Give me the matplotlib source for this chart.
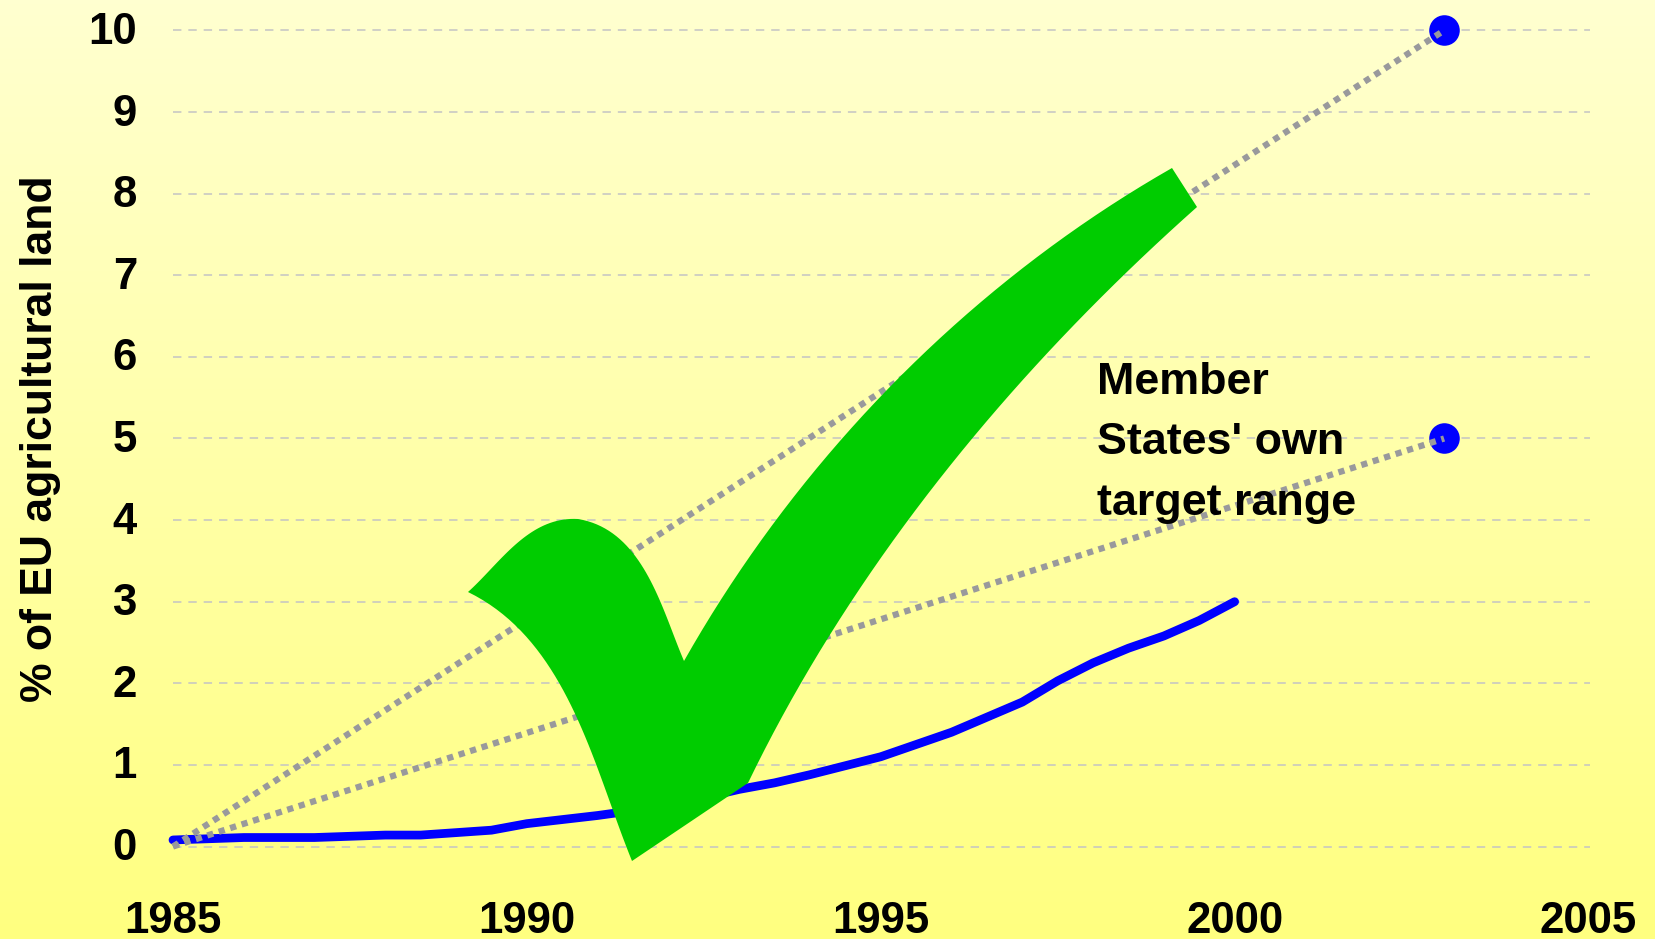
import matplotlib
matplotlib.use("Agg")
import matplotlib.pyplot as plt
import numpy as np
from matplotlib.patches import Polygon
from matplotlib.transforms import ScaledTranslation

plt.rcParams['font.family'] = ['Liberation Sans', 'DejaVu Sans']
plt.rcParams['font.weight'] = 'bold'

# eu share of farmland
years = [1985, 1986, 1987, 1988, 1988.5, 1989.5, 1990, 1991, 1992, 1993, 1993.5,
         1994, 1995, 1996, 1997, 1997.5, 1998, 1998.5, 1999, 1999.5, 2000]
share = [0.08, 0.11, 0.11, 0.14, 0.14, 0.2, 0.28, 0.38, 0.5, 0.7, 0.78,
         0.88, 1.1, 1.4, 1.77, 2.03, 2.25, 2.43, 2.58, 2.77, 3.0]

target_years = [1985, 2002.96]
target_high = [0, 10]
target_low = [0, 5]

x_ticks = [1985, 1990, 1995, 2000, 2005]
y_ticks = list(range(0, 11))

# tick mark outline, in pixels of the picture, one list per edge
tick_left = [(468, 592), (493, 567), (517, 543), (550, 523), (578, 519)]
tick_inner = [(578, 519), (607, 528), (633, 555), (663, 607), (684, 661)]
tick_upper = [(684, 661), (733, 580), (793, 498), (843, 437), (877, 400), (920, 357),
              (967, 317), (1013, 275), (1073, 230), (1127, 193), (1172, 168)]
tick_end = [(1172, 168), (1197, 207)]
tick_lower = [(1197, 207), (1153, 245), (1110, 287), (1073, 325), (1043, 357), (1007, 400),
              (973, 438), (910, 520), (853, 600), (800, 680), (773, 730), (748, 783)]
tick_base = [(748, 783), (632, 861)]
tick_back = [(632, 861), (613, 805), (597, 767), (570, 707), (543, 660), (513, 620), (490, 602), (468, 592)]

W, H = 1655, 939
X0, X1 = 173, 1588.5
Y0, Y1 = 846.5, 30.5


def smooth(pts, n=40):
    # one clean cubic through each edge, the ends are held in place
    p = np.array(pts, dtype=float)
    if len(p) < 3:
        return p
    t = np.r_[0, np.cumsum(np.hypot(*np.diff(p, axis=0).T))]
    t = t / t[-1]
    w = np.ones(len(p))
    w[0] = w[-1] = 50
    tt = np.linspace(0, 1, n)
    return np.column_stack([np.polyval(np.polyfit(t, p[:, k], 3, w=w), tt) for k in (0, 1)])


fig = plt.figure(figsize=(W / 100, H / 100), dpi=100)

bg = fig.add_axes([0, 0, 1, 1], zorder=0)
top = np.array([255, 255, 208]) / 255
bottom = np.array([255, 255, 128]) / 255
grad = np.linspace(0, 1, 256)[:, None, None]
bg.imshow(top * (1 - grad) + bottom * grad, aspect='auto')
bg.axis('off')

ax = fig.add_axes([X0 / W, 1 - Y0 / H, (X1 - X0) / W, (Y0 - Y1) / H], zorder=1)
ax.patch.set_alpha(0)
ax.set_xlim(1985, 2005)
ax.set_ylim(0, 10)
for s in ax.spines.values():
    s.set_visible(False)

for y in y_ticks:
    ax.plot([1985, 2005.02], [y, y], color='#c4c4c4', lw=1.1, dashes=(5.5, 4.54), zorder=1, clip_on=False)

ax.plot(target_years[1:], target_high[1:], 'o', color='#0000ff', ms=22, mew=0, zorder=2, clip_on=False)
ax.plot(target_years[1:], target_low[1:], 'o', color='#0000ff', ms=22, mew=0, zorder=2, clip_on=False)
ax.plot(years, share, color='#0000ff', lw=6.3, solid_capstyle='round', zorder=3, clip_on=False)
ax.plot(target_years, target_high, color='#99999c', lw=4.5, dashes=(1, 0.92), zorder=4, clip_on=False)
ax.plot(target_years, target_low, color='#99999c', lw=4.5, dashes=(1, 0.92), zorder=4, clip_on=False)

outline = np.vstack([smooth(e) for e in (tick_left, tick_inner, tick_upper, tick_end,
                                         tick_lower, tick_base, tick_back)])
mark_x = 1985 + (outline[:, 0] - X0) / (X1 - X0) * 20
mark_y = (Y0 - outline[:, 1]) / (Y0 - Y1) * 10
ax.add_patch(Polygon(np.column_stack([mark_x, mark_y]), closed=True, fc='#00cc00', ec='none', zorder=5, clip_on=False))

ax.set_xticks(x_ticks)
ax.set_yticks(y_ticks)
ax.tick_params(axis='both', length=0, labelsize=31.5)
ax.tick_params(axis='x', pad=39)
ax.tick_params(axis='y', pad=26)
up = ScaledTranslation(0, 1.8 / 72, fig.dpi_scale_trans)
for lab in ax.get_yticklabels():
    lab.set_transform(lab.get_transform() + up)

fig.text(41 / W, 1 - 439 / H, '% of EU agricultural land', rotation=90, ha='center', va='center',
         fontsize=32, fontweight='bold')
for txt, py in zip(['Member', "States' own", 'target range'], [383, 443, 504]):
    fig.text(1097 / W, 1 - py / H, txt, ha='left', va='center', fontsize=32.3, fontweight='bold', zorder=6)

fig.savefig('out.png', dpi=100)
